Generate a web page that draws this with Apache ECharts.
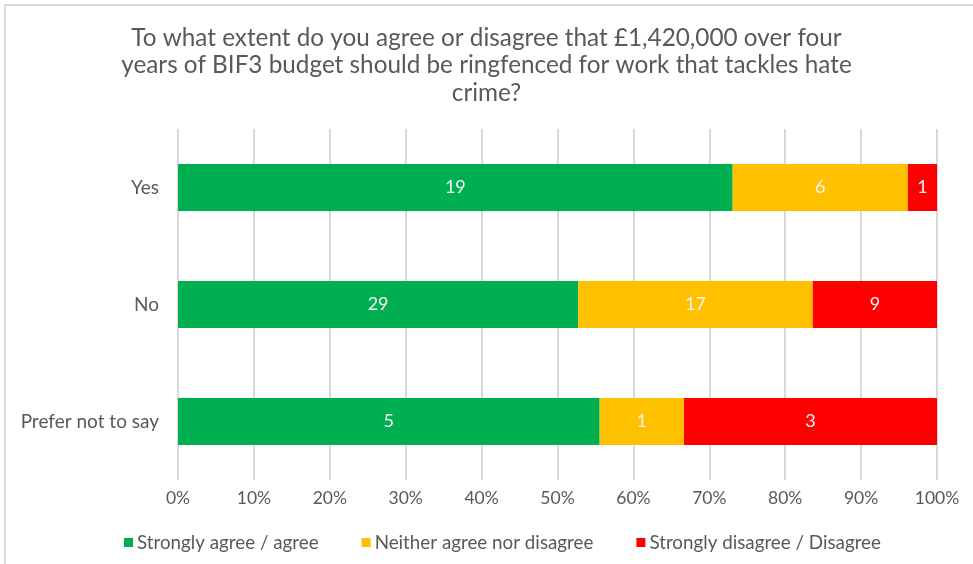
<!DOCTYPE html>
<html>
<head>
<meta charset="utf-8">
<script src="https://cdn.jsdelivr.net/npm/echarts@6/dist/echarts.min.js"></script>
<style>
  html, body { margin: 0; padding: 0; background: #fff; }
  #frame { position: absolute; left: 4px; top: 4px; width: 969px; height: 560px; border-left: 2px solid #d9d9d9; border-top: 2px solid #d9d9d9; box-sizing: border-box; }
  #chart { position: absolute; left: 0; top: 0; width: 973px; height: 564px; }
</style>
</head>
<body>
<div id="frame"></div>
<div id="chart"></div>
<script>
const categories = ["Yes", "No", "Prefer not to say"];
const seriesNames = ["Strongly agree / agree", "Neither agree nor disagree", "Strongly disagree / Disagree"];
const agreeCounts = [19, 29, 5];
const neitherCounts = [6, 17, 1];
const disagreeCounts = [1, 9, 3];
const xTickLabels = ["0%", "10%", "20%", "30%", "40%", "50%", "60%", "70%", "80%", "90%", "100%"];
const colors = ["#00B050", "#FFC000", "#FF0000"];

const counts = [agreeCounts, neitherCounts, disagreeCounts];
const totals = categories.map((_, i) => agreeCounts[i] + neitherCounts[i] + disagreeCounts[i]);
const catsDisplay = categories.slice().reverse();

const font = "Lato, 'Open Sans', sans-serif";

const series = counts.map((arr, s) => ({
  name: seriesNames[s],
  type: 'bar',
  stack: 'total',
  barCategoryGap: '60%',
  itemStyle: { color: colors[s] },
  label: {
    show: true,
    position: 'inside',
    color: '#f4f4f4',
    fontFamily: font,
    fontSize: 18,
    formatter: p => String(p.data.count)
  },
  data: categories.map((_, i) => ({ value: arr[i] / totals[i] * 100, count: arr[i] })).reverse()
}));

const chart = echarts.init(document.getElementById('chart'), null, { renderer: 'canvas' });
chart.setOption({
  animation: false,
  title: {
    text: "To what extent do you agree or disagree that £1,420,000 over four\nyears of BIF3 budget should be ringfenced for work that tackles hate\ncrime?",
    left: 'center',
    top: 19,
    padding: [5, 5, 5, 15],
    textStyle: { fontFamily: font, fontSize: 24.3, fontWeight: 'normal', color: '#595959', lineHeight: 27.5 }
  },
  legend: {
    top: 528,
    left: 119,
    itemWidth: 9,
    itemHeight: 9,
    itemGap: 43,
    icon: 'rect',
    textStyle: { fontFamily: font, fontSize: 18.8, color: '#595959', padding: [0, 0, 0, -1] },
    data: seriesNames
  },
  grid: { left: 178, right: 36, top: 129, bottom: 84 },
  xAxis: {
    type: 'value',
    min: 0, max: 100, interval: 10,
    axisLine: { show: false },
    axisTick: { show: false },
    splitLine: { show: true, lineStyle: { color: '#d9d9d9', width: 2 } },
    axisLabel: {
      margin: 9,
      fontFamily: font, fontSize: 17.5, color: '#595959',
      formatter: v => xTickLabels[Math.round(v / 10)]
    }
  },
  yAxis: {
    type: 'category',
    data: catsDisplay,
    axisLine: { show: false },
    axisTick: { show: false },
    axisLabel: { margin: 19, fontFamily: font, fontSize: 19, color: '#595959' }
  },
  series: series
});
</script>
</body>
</html>
